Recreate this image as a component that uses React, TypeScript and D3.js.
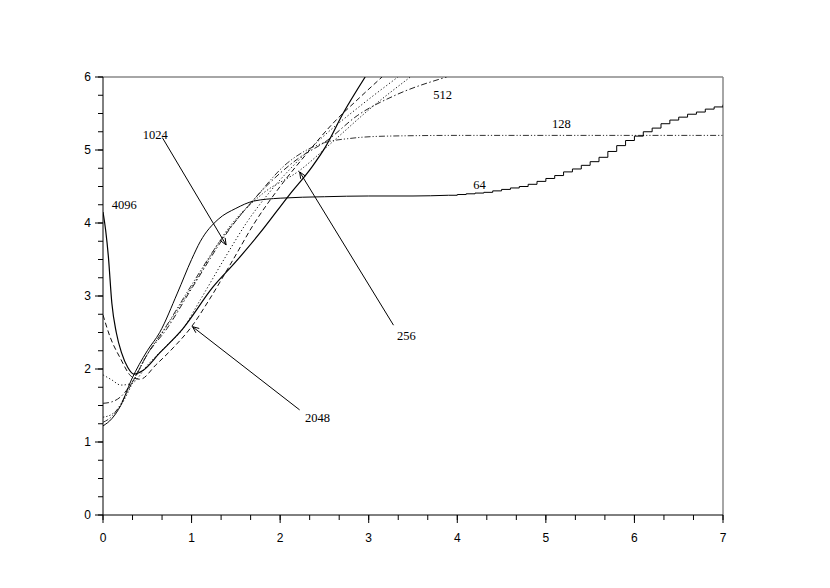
import React from "react";
import * as d3 from "d3";

const W = 830;
const H = 588;
const M = { left: 103, right: 723, top: 77, bottom: 515 };

const xTicks = [0, 1, 2, 3, 4, 5, 6, 7];
const yTicks = [0, 1, 2, 3, 4, 5, 6];

type P = [number, number];

const s4096: P[] = [[0,4.15],[0.03,3.9],[0.06,3.55],[0.1,2.9],[0.15,2.5],[0.21,2.22],[0.28,2.02],[0.35,1.93],[0.45,1.98],[0.64,2.22],[0.9,2.55],[1.24,3.12],[1.5,3.47],[1.77,3.86],[2.1,4.38],[2.36,4.77],[2.51,5.04],[2.71,5.5],[2.96,6.0]];
const s2048: P[] = [[0,2.74],[0.08,2.44],[0.19,2.16],[0.33,1.89],[0.42,1.86],[0.6,2.06],[0.8,2.3],[1.0,2.58],[1.2,2.95],[1.47,3.5],[1.7,3.98],[2.0,4.5],[2.3,4.95],[2.6,5.37],[2.9,5.72],[3.15,6.0]];
const s1024: P[] = [[0,1.92],[0.1,1.85],[0.2,1.78],[0.32,1.8],[0.5,2.05],[0.7,2.3],[0.89,2.53],[1.1,2.95],[1.39,3.55],[1.63,4.02],[1.9,4.45],[2.2,4.85],[2.5,5.2],[2.9,5.6],[3.33,6.0]];
const s512: P[] = [[0,1.53],[0.1,1.55],[0.2,1.62],[0.33,1.82],[0.5,2.2],[0.72,2.55],[1.0,3.1],[1.45,3.95],[1.8,4.45],[2.2,4.88],[2.53,5.13],[2.87,5.47],[3.3,5.75],[3.88,6.0]];
const s256: P[] = [[0,1.34],[0.1,1.38],[0.2,1.5],[0.33,1.8],[0.5,2.2],[0.7,2.55],[1.0,3.12],[1.45,3.98],[1.8,4.4],[2.22,4.72],[2.6,5.12],[3.0,5.55],[3.47,6.0]];
const s128: P[] = [[0,1.27],[0.1,1.35],[0.2,1.52],[0.33,1.82],[0.5,2.2],[0.72,2.6],[1.0,3.15],[1.32,3.75],[1.69,4.3],[2.08,4.82],[2.3,5.0],[2.5,5.1],[2.8,5.16],[3.2,5.19],[4.0,5.2],[5.0,5.2],[6.0,5.2],[7.0,5.2]];
const s64Smooth: P[] = [[0,1.22],[0.1,1.32],[0.2,1.5],[0.32,1.85],[0.5,2.25],[0.64,2.5],[0.84,3.04],[1.0,3.5],[1.1,3.75],[1.3,4.05],[1.5,4.2],[1.7,4.3],[2.0,4.34],[2.5,4.36],[3.0,4.37],[3.5,4.37],[3.9,4.38]];
const s64Steps: P[] = [[3.9,4.38],[4.0,4.39],[4.1,4.4],[4.2,4.41],[4.3,4.42],[4.4,4.44],[4.5,4.46],[4.6,4.48],[4.7,4.5],[4.8,4.53],[4.9,4.57],[5.0,4.61],[5.1,4.65],[5.2,4.7],[5.3,4.74],[5.4,4.79],[5.5,4.84],[5.6,4.9],[5.7,4.98],[5.8,5.06],[5.9,5.13],[6.0,5.19],[6.1,5.25],[6.2,5.3],[6.3,5.36],[6.4,5.41],[6.5,5.45],[6.6,5.49],[6.7,5.52],[6.8,5.56],[6.9,5.59],[7.0,5.62]];

const labels = [
  { text: "4096", x: 0.1, y: 4.19 },
  { text: "1024", x: 0.45, y: 5.15 },
  { text: "512", x: 3.73, y: 5.7 },
  { text: "128", x: 5.07, y: 5.3 },
  { text: "64", x: 4.18, y: 4.47 },
  { text: "256", x: 3.32, y: 2.4 },
  { text: "2048", x: 2.28, y: 1.27 },
];

const arrows = [
  { x1: 0.67, y1: 5.17, x2: 1.39, y2: 3.7 },
  { x1: 3.28, y1: 2.6, x2: 2.22, y2: 4.7 },
  { x1: 2.22, y1: 1.44, x2: 1.01, y2: 2.58 },
];

export default function App() {
  const x = d3.scaleLinear().domain([0, 7]).range([M.left, M.right]);
  const y = d3.scaleLinear().domain([0, 6]).range([M.bottom, M.top]);

  const smooth = d3.line<P>().x(d => x(d[0])).y(d => y(d[1])).curve(d3.curveMonotoneX);
  const step = d3.line<P>().x(d => x(d[0])).y(d => y(d[1])).curve(d3.curveStepAfter);

  const series = [
    { d: s128, dash: "6,2,1.2,2,1.2,2", color: "#333", w: 1 },
    { d: s256, dash: "1.3,2", color: "#222", w: 1 },
    { d: s512, dash: "6,2.5,1.5,2.5", color: "#222", w: 1 },
    { d: s1024, dash: "1.3,2.2", color: "#222", w: 1 },
    { d: s2048, dash: "5,3", color: "#111", w: 1 },
    { d: s4096, dash: undefined, color: "#000", w: 1.2 },
  ];

  const xMinor = d3.range(0, 7.001, 1 / 3);
  const yMinor = d3.range(0, 6.001, 0.25);

  const arrowHead = (a: typeof arrows[0]) => {
    const X1 = x(a.x1), Y1 = y(a.y1), X2 = x(a.x2), Y2 = y(a.y2);
    const ang = Math.atan2(Y2 - Y1, X2 - X1);
    const L = 7, sp = 0.4;
    const p1 = [X2 - L * Math.cos(ang - sp), Y2 - L * Math.sin(ang - sp)];
    const p2 = [X2 - L * Math.cos(ang + sp), Y2 - L * Math.sin(ang + sp)];
    return `M${p1[0]},${p1[1]}L${X2},${Y2}L${p2[0]},${p2[1]}`;
  };

  return (
    <svg width={W} height={H} style={{ position: "absolute", left: 0, top: 0, background: "#fff" }}>
      <defs>
        <clipPath id="plot">
          <rect x={M.left} y={M.top} width={M.right - M.left} height={M.bottom - M.top} />
        </clipPath>
      </defs>
      <rect x={0} y={0} width={W} height={H} fill="#fff" />
      <line x1={M.left} y1={M.top} x2={M.right} y2={M.top} stroke="#888" strokeWidth={1.5} />
      <line x1={M.right} y1={M.top} x2={M.right} y2={M.bottom} stroke="#888" strokeWidth={1.5} />
      <line x1={M.left} y1={M.bottom} x2={M.right} y2={M.bottom} stroke="#000" strokeWidth={1} />
      <line x1={M.left} y1={M.top} x2={M.left} y2={M.bottom} stroke="#000" strokeWidth={1} />
      {xMinor.map((v, i) => (
        <line key={"xm" + i} x1={x(v)} x2={x(v)} y1={M.bottom} y2={M.bottom + 5} stroke="#000" />
      ))}
      {xTicks.map(v => (
        <g key={"x" + v}>
          <line x1={x(v)} x2={x(v)} y1={M.bottom} y2={M.bottom + 8} stroke="#000" />
          <text x={x(v)} y={M.bottom + 27} textAnchor="middle" fontFamily="Liberation Sans, Arial, sans-serif" fontSize={12}>{v}</text>
        </g>
      ))}
      {yMinor.map((v, i) => (
        <line key={"ym" + i} x1={M.left - 5} x2={M.left} y1={y(v)} y2={y(v)} stroke="#000" />
      ))}
      {yTicks.map(v => (
        <g key={"y" + v}>
          <line x1={M.left - 8} x2={M.left} y1={y(v)} y2={y(v)} stroke="#000" />
          <text x={M.left - 12} y={y(v) + 4} textAnchor="end" fontFamily="Liberation Sans, Arial, sans-serif" fontSize={12}>{v}</text>
        </g>
      ))}
      <g clipPath="url(#plot)" fill="none">
        {series.map((s, i) => (
          <path key={i} d={smooth(s.d) || ""} stroke={s.color} strokeWidth={s.w} strokeDasharray={s.dash} />
        ))}
        <path d={smooth(s64Smooth) || ""} stroke="#000" strokeWidth={1} />
        <path d={step(s64Steps) || ""} stroke="#000" strokeWidth={1} />
      </g>
      {arrows.map((a, i) => (
        <g key={"a" + i} fill="none" stroke="#000" strokeWidth={1}>
          <line x1={x(a.x1)} y1={y(a.y1)} x2={x(a.x2)} y2={y(a.y2)} />
          <path d={arrowHead(a)} />
        </g>
      ))}
      {labels.map(l => (
        <text key={l.text} x={x(l.x)} y={y(l.y)} fontFamily="Liberation Serif, Times New Roman, serif" fontSize={12.5}>{l.text}</text>
      ))}
    </svg>
  );
}
